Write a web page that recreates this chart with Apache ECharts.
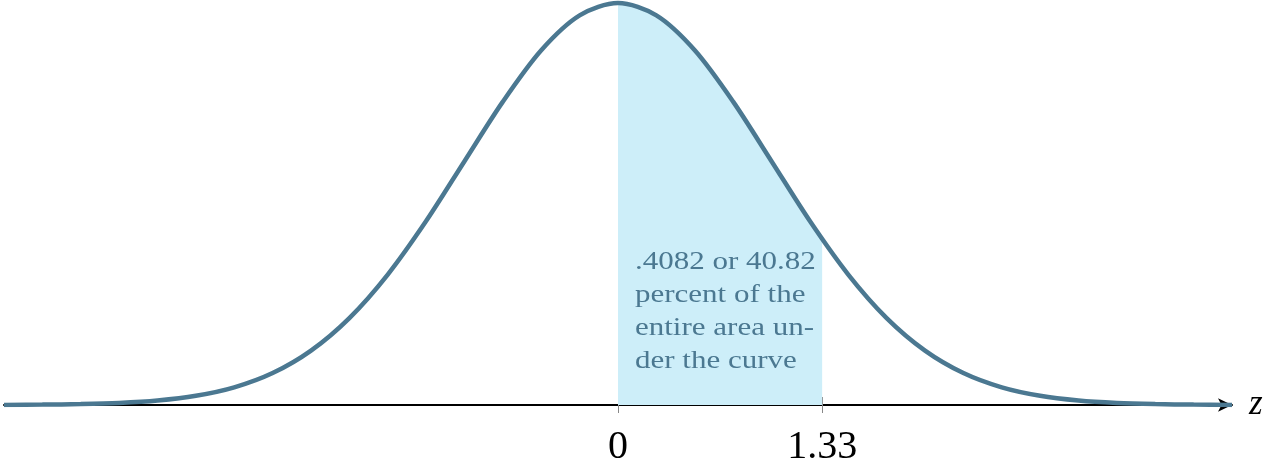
<!DOCTYPE html>
<html>
<head>
<meta charset="utf-8">
<script src="https://cdn.jsdelivr.net/npm/echarts@6/dist/echarts.min.js"></script>
<style>
  html, body { margin: 0; padding: 0; background: #fff; }
  #chart { width: 1282px; height: 472px; }
</style>
</head>
<body>
<div id="chart"></div>
<script>
// curve (height of the bell at each z)
var zValues = [-4, -3.75, -3.5, -3.25, -3, -2.75, -2.5, -2.25, -2, -1.75, -1.5, -1.25, -1, -0.75, -0.5, -0.25,
               0, 0.25, 0.5, 0.75, 1, 1.25, 1.5, 1.75, 2, 2.25, 2.5, 2.75, 3, 3.25, 3.5, 3.75, 4];
var heights = [0.0001, 0.0004, 0.0009, 0.0020, 0.0044, 0.0091, 0.0175, 0.0317, 0.0540, 0.0863, 0.1295, 0.1826, 0.2420, 0.3011, 0.3521, 0.3867,
               0.3989, 0.3867, 0.3521, 0.3011, 0.2420, 0.1826, 0.1295, 0.0863, 0.0540, 0.0317, 0.0175, 0.0091, 0.0044, 0.0020, 0.0009, 0.0004, 0.0001];

// shaded part, 0 to 1.33
var shadeZ = [0, 0.25, 0.5, 0.75, 1, 1.25, 1.33];
var shadeHeights = [0.3989, 0.3867, 0.3521, 0.3011, 0.2420, 0.1826, 0.1647];

var tickValues = [0, 1.33];
var noteLines = ['.4082 or 40.82', 'percent of the', 'entire area un-', 'der the curve'];

var curveColor = '#4b7891';
var serif = '"Liberation Serif", "DejaVu Serif", serif';

function pairs(xs, ys) {
    var out = [];
    for (var i = 0; i < xs.length; i++) {
        out.push([xs[i], ys[i]]);
    }
    return out;
}

var myChart = echarts.init(document.getElementById('chart'));

var option = {
    backgroundColor: '#fff',
    animation: false,
    grid: {
        left: 4,
        right: 50,
        top: 2,
        bottom: 67
    },
    xAxis: [
        {
            type: 'value',
            min: -4,
            max: 4,
            position: 'bottom',
            name: 'z',
            nameLocation: 'end',
            nameGap: 17,
            nameTextStyle: {
                fontFamily: serif,
                fontStyle: 'italic',
                fontSize: 35,
                color: '#000',
                verticalAlign: 'middle'
            },
            splitLine: { show: false },
            axisLine: {
                show: true,
                symbol: ['none', 'arrow'],
                symbolSize: [10, 14],
                lineStyle: { color: '#000', width: 2 }
            },
            axisTick: {
                show: true,
                customValues: tickValues,
                length: 8,
                lineStyle: { color: '#888', width: 1 }
            },
            axisLabel: {
                show: true,
                customValues: tickValues,
                margin: 22,
                fontFamily: serif,
                fontSize: 40,
                color: '#000',
                formatter: function (v) { return String(v); }
            }
        },
        {
            // same axis, ticks drawn on the inner side
            type: 'value',
            min: -4,
            max: 4,
            position: 'bottom',
            splitLine: { show: false },
            axisLine: { show: false },
            axisLabel: { show: false },
            axisTick: {
                show: true,
                inside: true,
                customValues: tickValues,
                length: 8,
                lineStyle: { color: '#888', width: 1 }
            }
        }
    ],
    yAxis: {
        type: 'value',
        min: 0,
        max: 0.4,
        show: false
    },
    graphic: [
        {
            type: 'text',
            x: 635,
            y: 246,
            scaleX: 1.24,
            z: 10,
            style: {
                text: noteLines.join('\n'),
                font: '25px ' + serif,
                fill: curveColor,
                lineHeight: 33
            }
        }
    ],
    series: [
        {
            name: 'shade',
            type: 'line',
            data: pairs(shadeZ, shadeHeights),
            smooth: 0.3,
            showSymbol: false,
            lineStyle: { width: 0 },
            areaStyle: { color: '#cdeef9', opacity: 1 },
            z: 1
        },
        {
            name: 'curve',
            type: 'line',
            data: pairs(zValues, heights),
            smooth: 0.3,
            showSymbol: false,
            lineStyle: { color: curveColor, width: 4.5 },
            z: 3
        }
    ]
};

myChart.setOption(option);
</script>
</body>
</html>
